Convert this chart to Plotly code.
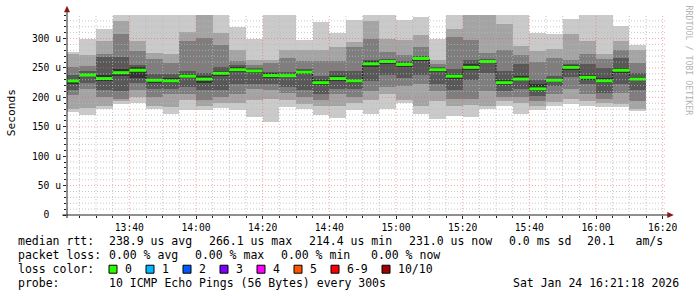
import plotly.graph_objects as go
import pandas as pd

# ---------------- data ----------------
start_time = "2026-01-24 13:20:00"
step_minutes = 5
x_range = ["2026-01-24 13:21:18", "2026-01-24 16:21:18"]

# sorted ping RTTs per 5-minute step (microseconds), rank 1 = fastest
ping1 = [175,170,180,189,190,180,172,178,178,182,178,166,158,184,180,170,165,179,172,180,190,172,164,168,167,181,186,172,178,186,188,185,184,183,176]
ping2 = [181,182,185,193,200,186,184,195,185,190,190,195,197,196,189,185,186,190,195,205,195,186,193,185,187,186,193,190,185,192,197,193,190,188,180]
ping3 = [204,215,200,197,212,200,205,205,195,200,205,215,213,207,200,195,205,200,210,218,220,222,210,198,198,210,200,200,193,205,215,206,198,207,193]
ping4 = [212,225,212,210,225,215,215,218,212,213,222,222,222,217,213,205,215,214,228,238,233,238,223,212,230,241,210,215,203,220,235,222,208,223,212]
ping5 = [222,236,228,236,233,224,225,233,225,237,243,241,233,234,240,221,228,225,252,257,252,262,243,232,247,258,221,228,211,226,247,229,224,242,228]
ping6 = [232,240,238,248,252,232,233,240,236,245,252,249,241,240,246,229,236,232,261,264,259,268,250,240,256,263,230,237,222,232,255,238,233,250,235]
ping7 = [238,244,269,269,255,240,240,245,241,251,255,250,243,243,249,236,245,245,264,266,262,270,252,249,263,266,245,257,230,237,257,257,250,267,241]
ping8 = [252,254,274,308,279,266,258,295,301,289,262,255,258,267,262,262,262,286,300,277,272,285,257,303,297,275,280,272,260,267,263,273,265,280,259]
ping9 = [273,272,295,330,295,275,274,311,345,310,280,263,264,280,280,280,285,294,330,300,297,306,263,317,345,345,325,287,278,282,307,296,273,296,281]
ping10 = [277,299,317,345,345,345,345,345,350,345,320,300,345,345,298,328,310,331,345,345,332,336,299,345,350,350,345,345,310,308,334,345,345,322,289]
median = [228,238,232,242,246,229,228,236,231,241,247,245,237,237,243,225,232,228,257,261,256,266.1,247,236,251,261,225,231,214.4,229,251,234,228,246,231.0]

y_tick_vals = [0, 50, 100, 150, 200, 250, 300]
y_tick_text = ["0  ", "50 u", "100 u", "150 u", "200 u", "250 u", "300 u"]
x_tick_vals = ["2026-01-24 13:40", "2026-01-24 14:00", "2026-01-24 14:20", "2026-01-24 14:40",
               "2026-01-24 15:00", "2026-01-24 15:20", "2026-01-24 15:40", "2026-01-24 16:00",
               "2026-01-24 16:20"]
y_max = 340

legend_rtt = [("238.9 us avg", 107.3), ("266.1 us max", 207.3), ("214.4 us min", 307.3),
              ("231.0 us now", 407.3), ("0.0 ms sd", 507.3), ("20.1   am/s", 586.0)]
legend_loss = [("0.00 % avg", 107.3), ("0.00 % max", 193.3), ("0.00 % min", 279.3), ("0.00 % now", 369.3)]
loss_labels = ["0", "1", "2", "3", "4", "5", "6-9", "10/10"]
loss_colors = ["#26ff00", "#00b8ff", "#0059ff", "#7e00ff", "#ff00ff", "#ff5500", "#ff0000", "#a00000"]
loss_box_x = [108.7, 145.7, 182.7, 219.7, 256.7, 293.7, 330.7, 381.7]
probe_text = "10 ICMP Echo Pings (56 Bytes) every 300s"
stamp_text = "Sat Jan 24 16:21:18 2026"

smoke_colors = ["#cacaca", "#a4a4a4", "#7e7e7e", "#585858", "#323232"]

# ---------------- figure ----------------
W, H = 697, 297
PL, PR, PT, PB = 66.7, 666.7, 14.7, 215.0
MONO = "DejaVu Sans Mono"

def px_x(x):
    return (x - PL) / (PR - PL)

def px_y(y):
    return (PB - y) / (PB - PT)

n = len(median)
starts = pd.date_range(start_time, periods=n, freq=f"{step_minutes}min")
ends = starts + pd.Timedelta(minutes=step_minutes)
step_ms = step_minutes * 60 * 1000

pings = [ping1, ping2, ping3, ping4, ping5, ping6, ping7, ping8, ping9, ping10]
fig = go.Figure()

for i in range(5):
    lo = pings[i]
    hi = pings[9 - i]
    fig.add_trace(go.Bar(
        x=starts, y=[h - l for h, l in zip(hi, lo)], base=lo,
        width=step_ms, offset=0,
        marker=dict(color=smoke_colors[i], line=dict(width=0)),
        hoverinfo="skip", showlegend=False,
    ))

# dark median connector line
fig.add_trace(go.Scatter(
    x=list(starts) + [ends[-1]], y=median + [median[-1]],
    mode="lines", line=dict(color="#202020", width=1, shape="hv"),
    hoverinfo="skip", showlegend=False,
))

# green median segments (0% loss)
gx, gy = [], []
for s, e, m in zip(starts, ends, median):
    gx += [s, e, None]
    gy += [m, m, None]
fig.add_trace(go.Scatter(
    x=gx, y=gy, mode="lines", line=dict(color="#26ff00", width=3),
    hoverinfo="skip", showlegend=False,
))

shapes = []
# grid drawn above the data (rrdtool style)
major_h = [v for v in y_tick_vals if v > 0]
minor_h = [v for v in range(10, y_max, 10) if v % 50 != 0]
MINOR_C = "rgba(185,185,185,0.8)"
MAJOR_C = "rgba(240,90,90,0.55)"
for v in minor_h:
    shapes.append(dict(type="line", xref="paper", yref="y", x0=0, x1=1, y0=v, y1=v,
                       line=dict(color=MINOR_C, width=1, dash="1px,2px"), layer="above"))
for v in major_h:
    shapes.append(dict(type="line", xref="paper", yref="y", x0=0, x1=1, y0=v, y1=v,
                       line=dict(color=MAJOR_C, width=1, dash="1px,2px"), layer="above"))
grid_times = pd.date_range("2026-01-24 13:25", "2026-01-24 16:20", freq="5min")
major_set = set(pd.to_datetime(x_tick_vals))
for t in grid_times:
    is_major = t in major_set
    shapes.append(dict(type="line", xref="x", yref="paper", x0=t, x1=t, y0=0, y1=1,
                       line=dict(color=MAJOR_C if is_major else MINOR_C,
                                 width=1, dash="1px,2px"), layer="above"))

# axes with arrows
shapes.append(dict(type="line", xref="paper", yref="paper", x0=px_x(62), x1=px_x(670),
                   y0=0, y1=0, line=dict(color="#202020", width=1), layer="above"))
shapes.append(dict(type="line", xref="paper", yref="paper", x0=0, x1=0,
                   y0=px_y(218), y1=px_y(10), line=dict(color="#202020", width=1), layer="above"))
ax_tip, ax_base = px_x(673.5), px_x(667)
shapes.append(dict(type="path", xref="paper", yref="paper",
                   path=f"M {ax_base},{px_y(212)} L {ax_tip},{px_y(215)} L {ax_base},{px_y(218)} Z",
                   fillcolor="#8b1515", line=dict(width=0), layer="above"))
shapes.append(dict(type="path", xref="paper", yref="paper",
                   path=f"M {px_x(63.7)},{px_y(12)} L {px_x(66.7)},{px_y(5.5)} L {px_x(69.7)},{px_y(12)} Z",
                   fillcolor="#8b1515", line=dict(width=0), layer="above"))

annotations = []
def text(x, y, s, size=11.5, anchor="left", color="#000000", angle=0):
    annotations.append(dict(xref="paper", yref="paper", x=px_x(x), y=px_y(y),
                            text=s.replace(" ", "\u00a0"), showarrow=False,
                            xanchor=anchor, yanchor="middle", textangle=angle,
                            font=dict(family=MONO, size=size, color=color),
                            borderpad=0))

row_y = [241.5, 255.3, 269.3, 282.8]
text(16.7, row_y[0], "median rtt:")
for s, x in legend_rtt:
    text(x, row_y[0], s)
text(16.7, row_y[1], "packet loss:")
for s, x in legend_loss:
    text(x, row_y[1], s)
text(16.7, row_y[2], "loss color:")
for lab, col, bx in zip(loss_labels, loss_colors, loss_box_x):
    shapes.append(dict(type="rect", xref="paper", yref="paper",
                       x0=px_x(bx), x1=px_x(bx + 8), y0=px_y(row_y[2] + 4), y1=px_y(row_y[2] - 4),
                       fillcolor=col, line=dict(color="#000000", width=1)))
    text(bx + 15, row_y[2], lab)
text(16.7, row_y[3], "probe:")
text(107.3, row_y[3], probe_text)
text(680.0, row_y[3], stamp_text, anchor="right")

# y title and watermark
text(10.7, 113, "Seconds", size=11.2, anchor="center", angle=-90)
text(688.5, 60, "RRDTOOL / TOBI OETIKER", size=8.3, anchor="center", color="#b4b4b4", angle=90)

fig.update_layout(
    width=W, height=H,
    margin=dict(l=PL, r=W - PR, t=PT, b=H - PB, pad=0),
    paper_bgcolor="#ffffff", plot_bgcolor="#ffffff",
    barmode="overlay", bargap=0, showlegend=False,
    shapes=shapes, annotations=annotations,
    font=dict(family=MONO, color="#000000"),
)
fig.update_xaxes(
    type="date", range=x_range, tickvals=x_tick_vals, tickformat="%H:%M",
    showgrid=False, zeroline=False, showline=False,
    ticks="outside", ticklen=3, tickcolor="#202020",
    tickfont=dict(family=MONO, size=9.7, color="#000000"),
    minor=dict(ticks="outside", ticklen=2, tickcolor="#202020", dtick=step_ms,
               tick0="2026-01-24 13:20", showgrid=False),
)
fig.update_yaxes(
    range=[0, y_max], tickvals=y_tick_vals, ticktext=[t.replace(" ", "\u00a0") for t in y_tick_text],
    showgrid=False, zeroline=False, showline=False,
    ticks="outside", ticklen=3, tickcolor="#202020",
    tickfont=dict(family=MONO, size=9.7, color="#000000"),
    minor=dict(ticks="outside", ticklen=2, tickcolor="#202020", dtick=10, showgrid=False),
)

fig.write_html("out.html")
